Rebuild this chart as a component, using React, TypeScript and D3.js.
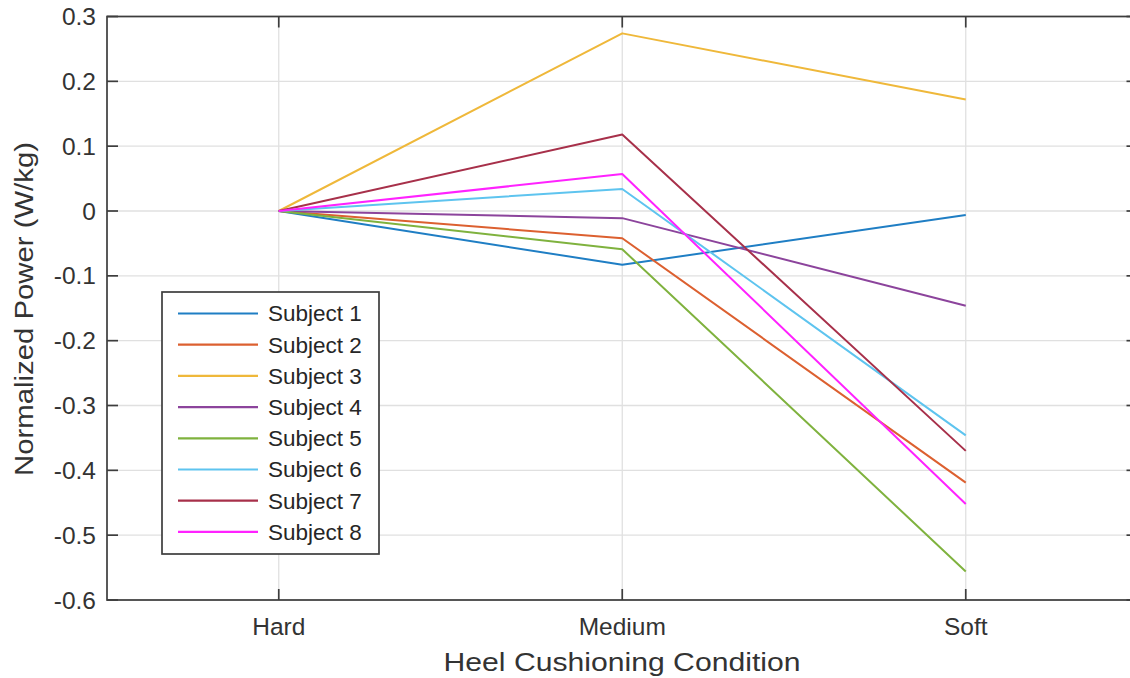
import React from "react";
import * as d3 from "d3";

const categories = ["Hard", "Medium", "Soft"];
const subjects = ["Subject 1", "Subject 2", "Subject 3", "Subject 4", "Subject 5", "Subject 6", "Subject 7", "Subject 8"];
const subject1 = [0, -0.083, -0.006];
const subject2 = [0, -0.042, -0.419];
const subject3 = [0, 0.274, 0.172];
const subject4 = [0, -0.011, -0.146];
const subject5 = [0, -0.059, -0.556];
const subject6 = [0, 0.034, -0.346];
const subject7 = [0, 0.118, -0.370];
const subject8 = [0, 0.057, -0.452];
const series = [subject1, subject2, subject3, subject4, subject5, subject6, subject7, subject8];
const colors = ["#1f7ec4", "#dc6030", "#efb83a", "#8c449c", "#7fb23e", "#5ec4ef", "#a7304a", "#ff22ff"];
const yTicks = [0.3, 0.2, 0.1, 0, -0.1, -0.2, -0.3, -0.4, -0.5, -0.6];

const W = 1130;
const H = 678;
const left = 107;
const right = 1137.5;
const top = 16.5;
const bottom = 600;
const axisColor = "#3d3d3d";
const textColor = "#333333";
const font = "'Liberation Sans', Arial, Helvetica, sans-serif";

export default function App() {
  const x = d3.scaleLinear().domain([0.5, 3.5]).range([left, right]);
  const y = d3.scaleLinear().domain([-0.6, 0.3]).range([bottom, top]);
  const line = d3
    .line<number>()
    .x((_, i) => x(i + 1))
    .y((d) => y(d));
  const tickLen = 11;
  const legX = 162;
  const legY = 292;
  const legW = 217;
  const legH = 262;
  const rowH = 31.2;

  return (
    <svg width={W} height={H} style={{ position: "absolute", left: 0, top: 0, background: "#fff" }}>
      <rect x={0} y={0} width={W} height={H} fill="#fff" />
      {yTicks.map((t) => (
        <line key={"gy" + t} x1={left} x2={right} y1={y(t)} y2={y(t)} stroke="#e0e0e0" strokeWidth={1.3} />
      ))}
      {categories.map((c, i) => (
        <line key={"gx" + c} x1={x(i + 1)} x2={x(i + 1)} y1={top} y2={bottom} stroke="#e0e0e0" strokeWidth={1.3} />
      ))}
      {series.map((s, i) => (
        <path key={"s" + i} d={line(s) || ""} fill="none" stroke={colors[i]} strokeWidth={2} strokeLinejoin="round" />
      ))}
      <rect x={left} y={top} width={right - left} height={bottom - top} fill="none" stroke={axisColor} strokeWidth={1.7} />
      {yTicks.map((t) => (
        <g key={"ty" + t}>
          <line x1={left} x2={left + tickLen} y1={y(t)} y2={y(t)} stroke={axisColor} strokeWidth={1.7} />
          <line x1={right} x2={right - tickLen} y1={y(t)} y2={y(t)} stroke={axisColor} strokeWidth={1.7} />
          <text x={96} y={y(t)} dy="0.35em" textAnchor="end" fontFamily={font} fontSize={24.5} fill={textColor}>
            {t === 0 ? "0" : d3.format(".1f")(t).replace("−", "-")}
          </text>
        </g>
      ))}
      {categories.map((c, i) => (
        <g key={"tx" + c}>
          <line x1={x(i + 1)} x2={x(i + 1)} y1={bottom} y2={bottom - tickLen} stroke={axisColor} strokeWidth={1.7} />
          <line x1={x(i + 1)} x2={x(i + 1)} y1={top} y2={top + tickLen} stroke={axisColor} strokeWidth={1.7} />
          <text x={x(i + 1)} y={635} textAnchor="middle" fontFamily={font} fontSize={24.5} fill={textColor}>
            {c}
          </text>
        </g>
      ))}
      <text x={622} y={671} textAnchor="middle" fontFamily={font} fontSize={26} fill={textColor} textLength={357} lengthAdjust="spacingAndGlyphs">
        Heel Cushioning Condition
      </text>
      <text transform="translate(33,309) rotate(-90)" textAnchor="middle" fontFamily={font} fontSize={26} fill={textColor} textLength={334} lengthAdjust="spacingAndGlyphs">
        Normalized Power (W/kg)
      </text>
      <rect x={legX} y={legY} width={legW} height={legH} fill="#fff" stroke={axisColor} strokeWidth={1.7} />
      {subjects.map((s, i) => {
        const ry = legY + 21.5 + i * rowH;
        return (
          <g key={"l" + i}>
            <line x1={178} x2={258} y1={ry} y2={ry} stroke={colors[i]} strokeWidth={2.2} />
            <text x={268} y={ry} dy="0.35em" fontFamily={font} fontSize={22.5} fill="#262626">
              {s}
            </text>
          </g>
        );
      })}
    </svg>
  );
}
